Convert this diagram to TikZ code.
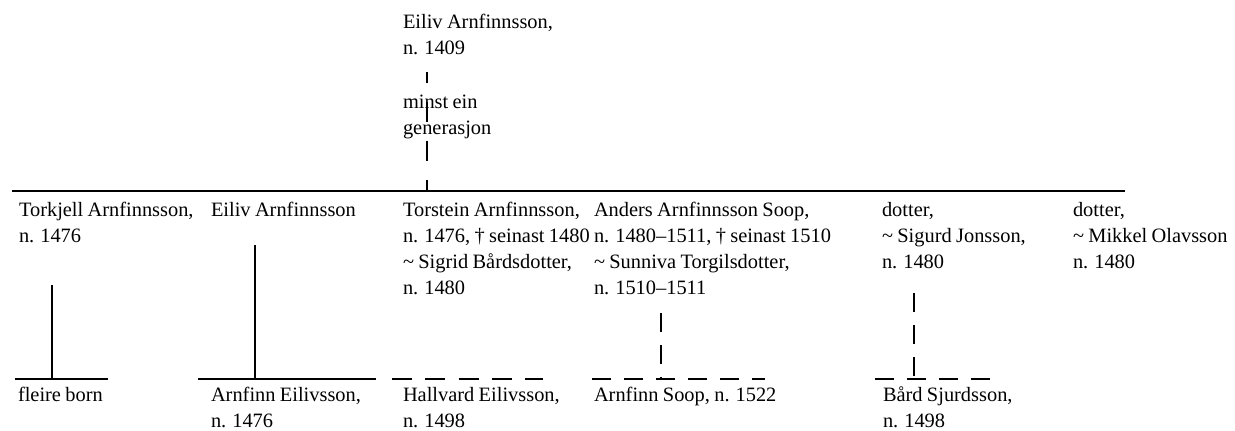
\documentclass[tikz,border=0pt]{standalone}
\usepackage{fontspec}
\setmainfont[WordSpace=0.85]{Liberation Serif}

\tikzset{every picture/.style={line width=1.5pt}}
\tikzset{
  person/.style={anchor=base west, inner sep=0pt, align=left, font=\fontsize{15.3}{19.5}\selectfont},
  dashline/.style={dash pattern=on 14pt off 10pt},
}

\begin{document}
\begin{tikzpicture}[x=0.75pt,y=0.75pt,yscale=-1,xscale=1]
\useasboundingbox (0,0) rectangle (1235,430);

% Text Node (base = baseline of the last line)
\node[person] (eiliv1409) at (402,54) {Eiliv Arnfinnsson,\\n. 1409};
% Text Node
\node[person] (generasjon) at (402,134) {minst ein\\generasjon};

% Text Node
\node[person] (torkjell) at (18,242) {Torkjell Arnfinnsson,\\n. 1476};
% Text Node
\node[person] (eiliv) at (210,216) {Eiliv Arnfinnsson};
% Text Node
\node[person] (torstein) at (402,294) {Torstein Arnfinnsson,\\n. 1476, † seinast 1480\\\textasciitilde{} Sigrid Bårdsdotter,\\n. 1480};
% Text Node
\node[person] (anders) at (593,294) {Anders Arnfinnsson Soop,\\n. 1480–1511, † seinast 1510\\\textasciitilde{} Sunniva Torgilsdotter,\\n. 1510–1511};
% Text Node
\node[person] (dotterA) at (881,268) {dotter,\\\textasciitilde{} Sigurd Jonsson,\\n. 1480};
% Text Node
\node[person] (dotterB) at (1072,268) {dotter,\\\textasciitilde{} Mikkel Olavsson\\n. 1480};

% Text Node
\node[person] (fleire) at (17,401) {fleire born};
% Text Node
\node[person] (arnfinnE) at (210,427) {Arnfinn Eilivsson,\\n. 1476};
% Text Node
\node[person] (hallvard) at (402,427) {Hallvard Eilivsson,\\n. 1498};
% Text Node
\node[person] (arnfinnS) at (593,401) {Arnfinn Soop, n. 1522};
% Text Node
\node[person] (bard) at (882,427) {Bård Sjurdsson,\\n. 1498};

% sibling bar and the line from Eiliv, n. 1409
\coordinate (barL) at (12,191);
\coordinate (barR) at (1125,191);
\coordinate (dropTop) at (427,72);
\coordinate (dropBar) at (427,191);
\draw (barL) -- (barR);
\draw[dash pattern=on 15pt off 14.25pt, dash phase=6.75pt] (dropTop) -- (dropBar);

% Torkjell -> fleire born
\coordinate (torkjellTop) at (52,285);
\coordinate (torkjellKnot) at (52,379);
\draw (torkjellTop) -- (torkjellKnot);
\draw (torkjellKnot) ++(-37,0) -- ++(93,0);

% Eiliv -> Arnfinn Eilivsson
\coordinate (eilivTop) at (255,245);
\coordinate (eilivKnot) at (255,379);
\draw (eilivTop) -- (eilivKnot);
\draw (eilivKnot) ++(-57,0) -- ++(178,0);

% Torstein -> Hallvard
\coordinate (torsteinKnot) at (392,379);
\draw[dash pattern=on 15pt off 10pt] (torsteinKnot) -- ++(151,0);

% Anders -> Arnfinn Soop
\coordinate (andersTop) at (661,313);
\coordinate (andersKnot) at (661,379);
\draw[dashline] (andersTop) -- (andersKnot);
\draw[dashline] (andersKnot) ++(-69,0) -- ++(173,0);

% dotter ~ Sigurd -> Bård
\coordinate (dotterTop) at (914,293);
\coordinate (dotterKnot) at (914,379);
\draw[dashline] (dotterTop) -- (dotterKnot);
\draw[dashline] (dotterKnot) ++(-39,0) -- ++(119,0);

\end{tikzpicture}
\end{document}
